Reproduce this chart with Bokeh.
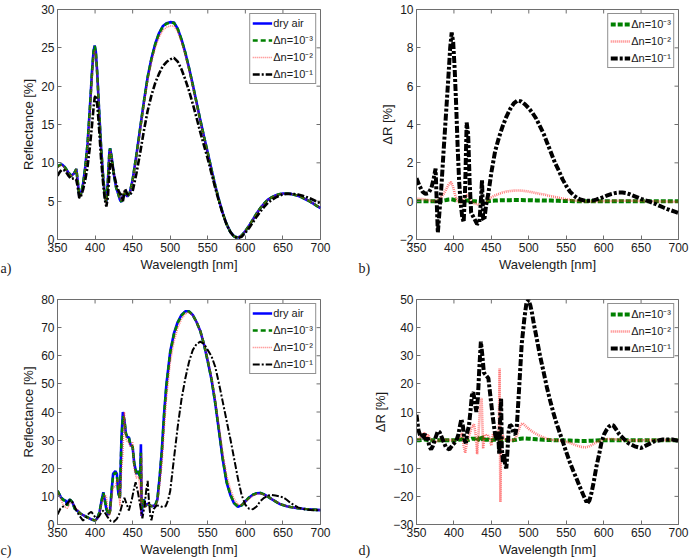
import math

from bokeh.plotting import figure
from bokeh.models import FixedTicker, Range1d, Title
from bokeh.layouts import column, row
from bokeh.embed import file_html
from bokeh.resources import INLINE

# ---------------------------------------------------------------------------
# Data: reflectance spectra (a, c) and reflectance changes (b, d)
# ---------------------------------------------------------------------------
WL_TICKS = [350, 400, 450, 500, 550, 600, 650, 700]

# Structure 1 -- shared wavelength grid for panels a) and b)
WL_A = [350, 353, 356, 360, 364, 368, 372, 375, 377, 379,
        381, 384, 387, 390, 393, 396, 398, 399.5, 401, 403,
        405, 408, 411, 413, 415, 417, 419, 420, 422, 425,
        428, 431, 433, 435, 437, 440, 443, 446, 450, 455,
        460, 465, 470, 475, 480, 485, 490, 495, 500, 505,
        510, 515, 520, 525, 530, 535, 540, 545, 550, 555,
        560, 565, 570, 575, 580, 585, 590, 595, 600, 605,
        610, 615, 620, 625, 630, 635, 640, 645, 650, 655,
        660, 665, 670, 675, 680, 685, 690, 695, 700]

R_A_DRY = [9.5, 9.7, 9.8, 9.4, 8.8, 8.3, 8.6, 9.2, 7.5, 5.6,
           5.9, 7.2, 9.5, 12.5, 17.0, 22.0, 24.6, 25.3, 24.5, 21.5,
           17.5, 12.0, 7.8, 5.8, 4.9, 7.5, 11.3, 11.9, 10.8, 8.5,
           6.8, 5.9, 5.2, 4.9, 5.8, 6.0, 5.6, 6.0, 7.8, 11.0,
           14.5, 18.0, 21.2, 23.6, 25.5, 26.9, 27.8, 28.2, 28.35, 28.3,
           27.5, 26.1, 24.4, 22.4, 20.2, 17.9, 15.6, 13.4, 11.3, 9.1,
           7.0, 5.1, 3.4, 2.0, 1.0, 0.4, 0.25, 0.5, 1.1, 1.8,
           2.6, 3.4, 4.1, 4.7, 5.2, 5.5, 5.75, 5.9, 6.0, 6.0,
           5.95, 5.85, 5.7, 5.5, 5.25, 5.0, 4.7, 4.4, 4.1]

R_A_DN3 = [9.5, 9.7, 9.8, 9.4, 8.8, 8.3, 8.6, 9.2, 7.5, 5.59,
           5.89, 7.18, 9.46, 12.44, 16.91, 21.9, 24.51, 25.23, 24.45, 21.48,
           17.5, 12.01, 7.8, 5.79, 4.88, 7.47, 11.27, 11.88, 10.8, 8.51,
           6.81, 5.92, 5.22, 4.92, 5.82, 6.02, 5.61, 6.0, 7.78, 10.97,
           14.46, 17.95, 21.15, 23.55, 25.44, 26.84, 27.74, 28.15, 28.3, 28.25,
           27.46, 26.06, 24.37, 22.37, 20.17, 17.88, 15.58, 13.39, 11.29, 9.09,
           7.0, 5.1, 3.4, 2.0, 1.0, 0.4, 0.25, 0.5, 1.1, 1.8,
           2.6, 3.4, 4.1, 4.7, 5.2, 5.5, 5.75, 5.9, 6.0, 6.0,
           5.95, 5.85, 5.7, 5.5, 5.25, 5.0, 4.7, 4.4, 4.1]

R_A_DN2 = [9.38, 9.58, 9.69, 9.3, 8.73, 8.26, 8.59, 9.2, 7.46, 5.52,
           5.78, 6.95, 9.08, 11.85, 16.12, 21.0, 23.75, 24.65, 24.1, 21.35,
           17.5, 12.1, 7.8, 5.7, 4.68, 7.18, 11.0, 11.7, 10.78, 8.6,
           6.93, 6.05, 5.38, 5.1, 5.98, 6.15, 5.65, 5.95, 7.6, 10.7,
           14.12, 17.55, 20.7, 23.07, 24.95, 26.34, 27.25, 27.67, 27.85, 27.84,
           27.08, 25.72, 24.05, 22.1, 19.94, 17.68, 15.42, 13.26, 11.2, 9.03,
           6.96, 5.08, 3.4, 2.01, 1.02, 0.42, 0.26, 0.5, 1.1, 1.79,
           2.59, 3.38, 4.08, 4.68, 5.18, 5.48, 5.73, 5.89, 5.99, 6.0,
           5.95, 5.86, 5.71, 5.52, 5.27, 5.02, 4.73, 4.43, 4.13]

R_A_DN1 = [8.3, 8.8, 9.1, 9.0, 8.4, 7.9, 8.0, 7.8, 6.8, 5.4,
           5.6, 6.5, 7.8, 9.5, 12.0, 15.0, 17.2, 18.5, 18.8, 17.5,
           15.0, 10.5, 7.0, 5.2, 4.3, 5.5, 8.5, 9.8, 10.3, 8.6,
           7.3, 6.4, 6.0, 5.8, 5.0, 6.6, 5.9, 5.8, 6.3, 8.6,
           11.3, 14.2, 16.8, 18.8, 20.4, 21.6, 22.6, 23.15, 23.5, 23.7,
           23.2, 22.2, 20.9, 19.4, 17.7, 15.9, 14.0, 12.25, 10.5, 8.6,
           6.7, 4.95, 3.33, 1.97, 0.98, 0.37, 0.17, 0.35, 0.88, 1.5,
           2.23, 2.98, 3.65, 4.25, 4.78, 5.14, 5.47, 5.7, 5.88, 5.95,
           5.95, 5.93, 5.86, 5.75, 5.58, 5.41, 5.18, 4.95, 4.72]

# Reflectance changes of structure 1 (panel b)
DR_A3 = [0, 0, 0, 0, 0, 0, 0, 0, 0, 0.01,
         0.01, 0.02, 0.04, 0.06, 0.09, 0.1, 0.09, 0.07, 0.05, 0.02,
         0.0, -0.01, 0.0, 0.01, 0.02, 0.03, 0.03, 0.02, 0.0, -0.01,
         -0.01, -0.02, -0.02, -0.02, -0.02, -0.02, -0.01, 0.0, 0.02, 0.03,
         0.04, 0.05, 0.05, 0.05, 0.06, 0.06, 0.06, 0.05, 0.05, 0.05,
         0.04, 0.04, 0.03, 0.03, 0.03, 0.02, 0.02, 0.01, 0.01, 0.01,
         0, 0, 0, 0, 0, 0, 0, 0, 0, 0,
         0, 0, 0, 0, 0, 0, 0, 0, 0, 0,
         0, 0, 0, 0, 0, 0, 0, 0, 0]

DR_A2 = [0.12, 0.12, 0.11, 0.1, 0.07, 0.04, 0.01, 0.0, 0.04, 0.08,
         0.12, 0.25, 0.42, 0.65, 0.88, 1.0, 0.85, 0.65, 0.4, 0.15,
         0.0, -0.1, 0.0, 0.1, 0.22, 0.32, 0.3, 0.2, 0.02, -0.1,
         -0.13, -0.15, -0.18, -0.2, -0.18, -0.15, -0.05, 0.05, 0.2, 0.3,
         0.38, 0.45, 0.5, 0.53, 0.55, 0.56, 0.55, 0.53, 0.5, 0.46,
         0.42, 0.38, 0.35, 0.3, 0.26, 0.22, 0.18, 0.14, 0.1, 0.07,
         0.04, 0.02, 0.0, -0.01, -0.02, -0.02, -0.01, 0.0, 0.0, 0.01,
         0.01, 0.02, 0.02, 0.02, 0.02, 0.02, 0.02, 0.01, 0.01, 0.0,
         0.0, -0.01, -0.01, -0.02, -0.02, -0.02, -0.03, -0.03, -0.03]

WL_B1 = [350, 354, 358, 362, 366, 370, 373, 375.5, 377, 378.5,
         380, 383, 386, 389, 392, 395, 397, 399, 401, 403,
         405, 407, 409, 411, 413, 415, 417, 419, 421, 423,
         427, 431, 434, 436, 437.5, 439, 440.5, 443, 446, 450,
         455, 460, 465, 470, 475, 480, 485, 490, 495, 500,
         505, 510, 515, 520, 525, 530, 535, 540, 545, 550,
         555, 560, 565, 570, 575, 580, 585, 590, 595, 600,
         605, 610, 615, 620, 625, 630, 635, 640, 645, 650,
         655, 660, 665, 670, 675, 680, 685, 690, 695, 700]

DR_B1 = [1.2, 0.8, 0.5, 0.38, 0.42, 0.7, 1.2, 1.7, 0.0, -1.65,
         -0.9, 0.6, 2.5, 4.3, 6.1, 8.0, 8.8, 8.3, 6.9, 5.0,
         2.8, 1.0, -0.1, -0.8, -1.1, 0.7, 4.1, 3.5, 1.0, -0.6,
         -0.9, -1.2, -1.1, 0.0, 1.1, -0.9, -1.0, -0.2, 0.4, 1.5,
         2.6, 3.3, 3.9, 4.4, 4.8, 5.1, 5.25, 5.2, 5.05, 4.85,
         4.6, 4.3, 3.9, 3.5, 3.0, 2.5, 2.0, 1.6, 1.15, 0.8,
         0.5, 0.3, 0.15, 0.07, 0.03, 0.02, 0.03, 0.08, 0.15, 0.22,
         0.3, 0.37, 0.42, 0.45, 0.45, 0.42, 0.36, 0.28, 0.2, 0.12,
         0.05, 0.0, -0.08, -0.16, -0.25, -0.33, -0.41, -0.48, -0.55, -0.62]

# Structure 2 -- wavelength grid for panels c) and d)
WL_C = [350, 352, 355, 358, 361, 363, 365, 367, 370, 373,
        376, 380, 385, 390, 395, 400, 403, 406, 409, 411,
        413, 415, 418, 420, 422, 424, 427, 429, 431, 433,
        435, 437, 439, 441, 443, 445, 447, 450, 452, 455,
        458, 460, 461, 462, 463, 465, 467, 470, 475, 480,
        483, 486, 489, 492, 495, 500, 505, 510, 515, 520,
        525, 530, 535, 540, 545, 550, 555, 560, 565, 570,
        575, 580, 585, 590, 595, 600, 605, 610, 615, 620,
        625, 630, 635, 640, 645, 650, 655, 660, 670, 680,
        690, 700]

R_C_DRY = [12.0, 11.0, 9.5, 8.8, 8.5, 6.8, 8.6, 8.8, 7.8, 5.6,
           5.0, 4.0, 3.2, 2.5, 1.8, 1.4, 2.2, 4.5, 9.0, 11.5,
           8.5, 5.5, 3.4, 5.0, 12.0, 18.0, 19.0, 18.0, 11.0, 9.5,
           30.0, 40.0, 37.0, 32.5, 31.0, 31.0, 28.5, 27.5, 22.0, 18.0,
           19.0, 16.5, 28.5, 3.0, 7.0, 9.0, 6.5, 7.4, 6.5, 6.8,
           9.0, 17.0, 27.0, 40.0, 50.0, 61.5, 68.0, 72.0, 74.5, 75.8,
           75.8, 74.5, 72.0, 68.8, 64.0, 58.0, 51.5, 43.0, 33.0, 23.0,
           15.0, 10.5, 7.5, 6.3, 6.8, 8.2, 9.6, 10.6, 11.1, 11.2,
           10.7, 9.9, 9.0, 8.2, 7.4, 6.9, 6.5, 6.2, 5.8, 5.5,
           5.3, 5.1]

R_C_DN3 = [12.0, 11.0, 9.5, 8.7, 8.2, 6.7, 8.6, 8.8, 7.8, 5.6,
           5.0, 4.0, 3.2, 2.5, 1.8, 1.4, 2.2, 4.4, 8.8, 11.2,
           8.7, 5.8, 3.4, 4.9, 11.7, 17.5, 18.5, 17.8, 11.4, 9.2,
           28.8, 38.5, 37.3, 32.3, 30.9, 30.8, 28.4, 27.7, 21.8, 17.9,
           18.8, 16.1, 25.5, 5.5, 7.1, 8.8, 6.45, 7.4, 6.5, 6.8,
           8.9, 16.7, 26.5, 39.4, 49.4, 61.0, 67.6, 71.7, 74.3, 75.7,
           75.75, 74.5, 72.0, 68.85, 64.05, 58.1, 51.65, 43.2, 33.25, 23.3,
           15.3, 10.75, 7.7, 6.4, 6.8, 8.2, 9.6, 10.6, 11.1, 11.2,
           10.7, 9.9, 9.0, 8.2, 7.4, 6.9, 6.5, 6.2, 5.8, 5.5,
           5.3, 5.1]

R_C_DN2 = [12.0, 10.7, 8.5, 6.8, 6.0, 5.8, 6.6, 7.8, 7.8, 6.1,
           5.5, 4.0, 3.2, 2.3, 1.8, 1.4, 1.9, 4.0, 7.5, 9.0,
           10.5, 10.0, 3.4, 3.5, 9.0, 13.0, 13.5, 16.0, 16.0, 6.5,
           18.0, 25.0, 40.0, 30.5, 29.5, 29.0, 27.5, 29.5, 20.0, 16.5,
           17.0, 12.0, 3.0, 25.0, 8.0, 7.0, 6.0, 7.4, 6.5, 6.8,
           8.0, 14.0, 21.5, 34.0, 44.8, 57.5, 65.0, 69.8, 73.0, 74.9,
           75.4, 74.4, 72.0, 68.9, 64.3, 58.6, 52.5, 44.5, 35.0, 25.4,
           17.6, 12.8, 9.1, 7.1, 7.0, 8.0, 9.2, 10.2, 10.8, 11.0,
           10.6, 9.9, 9.1, 8.3, 7.5, 7.0, 6.5, 6.2, 5.8, 5.5,
           5.3, 5.1]

WL_C1 = [350, 354, 358, 362, 367, 371, 375, 379, 384, 388,
         392, 395, 398, 401, 405, 409, 411, 414, 417, 421,
         425, 429, 433, 436, 439, 442, 445, 449, 452, 454,
         457, 460, 463, 466, 468, 470, 471.5, 473.5, 475, 478,
         482, 486, 490, 494, 497, 500, 505, 510, 515, 520,
         525, 530, 535, 540, 545, 550, 555, 560, 565, 570,
         575, 578, 580, 585, 590, 595, 600, 605, 610, 615,
         620, 625, 630, 635, 640, 645, 650, 655, 660, 670,
         680, 690, 700]

R_C_DN1 = [3.5, 5.7, 6.5, 7.2, 8.7, 7.6, 5.0, 3.2, 1.4, 2.5,
           4.0, 4.5, 3.5, 2.2, 2.8, 4.5, 5.0, 3.8, 2.5, 1.2,
           1.0, 2.0, 4.2, 7.0, 9.5, 7.3, 5.0, 9.0, 13.0, 15.0,
           11.5, 6.8, 2.2, 7.0, 12.0, 15.5, 9.2, 3.0, 1.5, 5.5,
           6.8, 6.6, 6.2, 6.5, 8.5, 11.9, 23.5, 34.8, 44.5, 51.8,
           57.8, 62.0, 64.2, 65.0, 64.2, 62.0, 59.8, 56.0, 50.0, 43.5,
           37.0, 33.0, 30.5, 23.5, 16.5, 10.5, 7.0, 5.6, 5.4, 6.4,
           8.3, 9.5, 10.3, 10.5, 10.3, 10.0, 9.7, 8.8, 7.7, 6.1,
           5.3, 5.1, 5.1]

# Reflectance changes of structure 2 (panel d)
DR_C3 = [0, 0, 0, 0.1, 0.3, 0.1, 0, 0, 0, 0,
         0, 0, 0, 0, 0, 0, 0, 0.1, 0.2, 0.3,
         -0.2, -0.3, 0, 0.1, 0.3, 0.5, 0.5, 0.2, -0.4, 0.3,
         1.2, 1.5, -0.3, 0.2, 0.1, 0.2, 0.1, -0.2, 0.2, 0.1,
         0.2, 0.4, 3.0, -2.5, -0.1, 0.2, 0.05, 0, 0, 0,
         0.1, 0.3, 0.5, 0.6, 0.6, 0.5, 0.4, 0.3, 0.2, 0.1,
         0.05, 0, 0, -0.05, -0.05, -0.1, -0.15, -0.2, -0.25, -0.3,
         -0.3, -0.25, -0.2, -0.1, 0, 0, 0, 0, 0, 0,
         0, 0, 0, 0, 0, 0, 0, 0, 0, 0,
         0, 0]

DR_C2 = [0.0, 0.3, 1.0, 2.0, 2.5, 1.0, 2.0, 1.0, 0.0, -0.5,
         -0.5, 0.0, 0.0, 0.2, 0.0, 0.0, 0.3, 0.5, 1.5, 2.5,
         -2.0, -4.5, 0.0, 1.5, 3.0, 5.0, 5.5, 2.0, -5.0, 3.0,
         12.0, 15.0, -3.0, 2.0, 1.5, 2.0, 1.0, -2.0, 2.0, 1.5,
         2.0, 4.5, 25.5, -22.0, -1.0, 2.0, 0.5, 0.0, 0.0, 0.0,
         1.0, 3.0, 5.5, 6.0, 5.2, 4.0, 3.0, 2.2, 1.5, 0.9,
         0.4, 0.1, 0.0, -0.1, -0.3, -0.6, -1.0, -1.5, -2.0, -2.4,
         -2.6, -2.3, -1.6, -0.8, -0.2, 0.2, 0.4, 0.4, 0.3, 0.2,
         0.1, 0.0, -0.1, -0.1, -0.1, -0.1, 0.0, 0.0, 0.0, 0.0,
         0.0, 0.0]

WL_D1 = [350, 352.5, 355, 357, 359, 361, 363, 365, 367, 369.5,
         372, 375, 378.5, 381, 385, 389.5, 394, 398.5, 403, 406,
         408, 410, 412, 414, 416, 418, 420, 422, 424, 426,
         428, 430, 432, 434, 436, 438, 440, 443, 446, 449,
         452, 455, 457, 459, 460.5, 462, 463, 464, 465.5, 467,
         468.5, 470, 471.5, 473, 475, 477, 479.5, 482, 484, 487,
         490.5, 494, 497, 499.5, 502, 504, 507, 510.5, 515, 519.5,
         524, 528.5, 533, 537, 541.5, 546, 550, 555, 559.5, 564,
         568, 573, 578, 581, 584, 587, 590.5, 594, 597, 600.5,
         604, 607, 610.5, 613, 617, 621, 626, 632.5, 641.5, 650,
         659, 668, 679, 692, 700]

DR_D1 = [9.0, 3.7, 1.5, 2.0, 0.5, 2.3, -0.5, 1.0, -2.2, -3.3,
         -2.0, 0.5, 3.2, 2.8, 0.2, -2.7, -3.3, -1.6, -0.4, 2.0,
         5.0, 7.5, 5.0, 0.0, -1.0, 3.0, 5.0, 10.0, 16.0, 17.0,
         13.0, 10.0, 15.0, 26.0, 35.0, 30.0, 24.0, 23.0, 22.0, 15.0,
         8.0, 2.0, 0.0, 3.0, -5.0, 10.0, 15.0, -3.0, -8.0, -5.0,
         -9.0, -10.0, -4.0, 3.0, 5.4, 5.0, 2.5, 2.0, 4.8, 18.0,
         34.0, 43.0, 49.0, 49.8, 48.0, 45.6, 41.0, 36.3, 30.0, 24.6,
         19.0, 14.1, 9.6, 6.0, 2.5, -1.0, -4.2, -8.0, -11.0, -13.8,
         -16.5, -19.6, -22.5, -21.5, -18.5, -14.5, -9.2, -5.0, -1.0, 2.0,
         3.7, 4.8, 5.4, 5.2, 3.7, 2.0, 0.7, -1.0, -2.2, -2.8,
         -1.6, -0.4, 0.2, 0.2, -0.3]

for xs, ys in [(WL_A, R_A_DRY), (WL_A, R_A_DN3), (WL_A, R_A_DN2), (WL_A, R_A_DN1),
               (WL_A, DR_A3), (WL_A, DR_A2), (WL_B1, DR_B1),
               (WL_C, R_C_DRY), (WL_C, R_C_DN3), (WL_C, R_C_DN2), (WL_C1, R_C_DN1),
               (WL_C, DR_C3), (WL_C, DR_C2), (WL_D1, DR_D1)]:
    assert len(xs) == len(ys), (len(xs), len(ys))

LABELS = ["dry air", "\u0394n=10\u207b\u00b3", "\u0394n=10\u207b\u00b2", "\u0394n=10\u207b\u00b9"]

# ---------------------------------------------------------------------------
# Styling
# ---------------------------------------------------------------------------
FONT = "Liberation Sans"
TAG_FONT = "Liberation Serif"
FRAME = "#6e6e6e"
TEXT = "#1a1a1a"
BLUE, GREEN, RED, BLACK = "#0000ff", "#008000", "#ff2020", "#000000"
X_MIN, X_MAX = 350, 700


def style_axis(ax, ticks):
    ax.ticker = FixedTicker(ticks=ticks)
    ax.axis_line_color = FRAME
    ax.major_tick_line_color = FRAME
    ax.major_tick_in = 4
    ax.major_tick_out = 0
    ax.minor_tick_line_color = None
    ax.major_label_text_font = FONT
    ax.major_label_text_color = TEXT
    ax.major_label_text_font_size = "12px"
    ax.major_label_standoff = 3


def panel(width, height, borders, y_rng, y_ticks, y_label, tag, tag_offset, tag_lift):
    left, right, top, bottom = borders
    p = figure(width=width, height=height,
               x_range=Range1d(X_MIN, X_MAX), y_range=Range1d(*y_rng),
               output_backend="svg", toolbar_location=None,
               min_border_left=left, min_border_right=right,
               min_border_top=top, min_border_bottom=bottom)
    p.background_fill_color = "white"
    p.border_fill_color = "white"
    p.outline_line_color = FRAME
    p.grid.visible = False

    style_axis(p.xaxis[0], WL_TICKS)
    style_axis(p.yaxis[0], y_ticks)
    for ax, lbl in ((p.xaxis[0], "Wavelength [nm]"), (p.yaxis[0], y_label)):
        ax.axis_label = lbl
        ax.axis_label_text_font = FONT
        ax.axis_label_text_font_size = "13px"
        ax.axis_label_text_font_style = "normal"
        ax.axis_label_text_color = TEXT
        ax.axis_label_standoff = 2

    # inward tick marks along the top and right edges of the box
    # (half of each dash is clipped away by the frame)
    p.scatter(WL_TICKS, [y_rng[1]] * len(WL_TICKS), marker="dash", size=8,
              angle=math.pi / 2, line_color=FRAME, line_width=1)
    p.scatter([X_MAX] * len(y_ticks), y_ticks, marker="dash", size=8,
              line_color=FRAME, line_width=1)

    # panel tag at the lower left, level with the axis label
    p.add_layout(Title(text=tag, align="left", offset=tag_offset,
                       vertical_align="top", standoff=-tag_lift,
                       text_font=TAG_FONT, text_font_size="14px",
                       text_font_style="normal", text_color=TEXT), "below")
    return p


def style_legend(p):
    lg = p.legend[0]
    lg.location = "top_right"
    lg.border_line_color = "#222222"
    lg.border_line_width = 1
    lg.background_fill_color = "white"
    lg.background_fill_alpha = 1.0
    lg.label_text_font = FONT
    lg.label_text_font_size = "11px"
    lg.label_text_color = TEXT
    lg.glyph_width = 20
    lg.glyph_height = 14
    lg.label_height = 14
    lg.label_standoff = 1
    lg.spacing = 2
    lg.padding = 2
    lg.margin = 4


# ---------------------------------------------------------------------------
# a) reflectance, structure 1
# ---------------------------------------------------------------------------
pa = panel(345, 280, (57, 25, 8, 40), (0, 30), [0, 5, 10, 15, 20, 25, 30],
           "Reflectance [%]", "a)", -57, 28)
pa.line(WL_A, R_A_DRY, color=BLUE, line_width=2.6, legend_label=LABELS[0])
pa.line(WL_A, R_A_DN3, color=GREEN, line_width=2.6, line_dash="5 3", legend_label=LABELS[1])
pa.line(WL_A, R_A_DN2, color=RED, line_width=1.6, line_alpha=0.6, line_dash="1 1", legend_label=LABELS[2])
pa.line(WL_A, R_A_DN1, color=BLACK, line_width=2.6, line_dash="7 2 2 2", legend_label=LABELS[3])
style_legend(pa)

# ---------------------------------------------------------------------------
# b) reflectance change, structure 1
# ---------------------------------------------------------------------------
pb = panel(346, 280, (71, 13, 9, 41), (-2, 10), [-2, 0, 2, 4, 6, 8, 10],
           "\u0394R [%]", "b)", -58, 28)
pb.line(WL_A, DR_A3, color=GREEN, line_width=4, line_dash="5 2", legend_label=LABELS[1])
pb.line(WL_A, DR_A2, color=RED, line_width=2.6, line_alpha=0.6, line_dash="1 1", legend_label=LABELS[2])
pb.line(WL_B1, DR_B1, color=BLACK, line_width=4, line_dash="7 2 3 2", legend_label=LABELS[3])
style_legend(pb)

# ---------------------------------------------------------------------------
# c) reflectance, structure 2
# ---------------------------------------------------------------------------
pc = panel(345, 279, (57, 25, 18, 31), (0, 80), [0, 10, 20, 30, 40, 50, 60, 70, 80],
           "Reflectance [%]", "c)", -57, 34)
pc.line(WL_C, R_C_DRY, color=BLUE, line_width=2.6, legend_label=LABELS[0])
pc.line(WL_C, R_C_DN3, color=GREEN, line_width=2.6, line_dash="5 3", legend_label=LABELS[1])
pc.line(WL_C, R_C_DN2, color=RED, line_width=1.6, line_alpha=0.6, line_dash="1 1", legend_label=LABELS[2])
pc.line(WL_C1, R_C_DN1, color=BLACK, line_width=2.0, line_dash="7 2 2 2", legend_label=LABELS[3])
style_legend(pc)

# ---------------------------------------------------------------------------
# d) reflectance change, structure 2
# ---------------------------------------------------------------------------
pd_ = panel(346, 279, (71, 13, 19, 31), (-30, 50), [-30, -20, -10, 0, 10, 20, 30, 40, 50],
            "\u0394R [%]", "d)", -58, 34)
pd_.line(WL_C, DR_C3, color=GREEN, line_width=4, line_dash="5 2", legend_label=LABELS[1])
pd_.line(WL_C, DR_C2, color=RED, line_width=2.6, line_alpha=0.6, line_dash="1 1", legend_label=LABELS[2])
pd_.line(WL_D1, DR_D1, color=BLACK, line_width=4, line_dash="7 2 3 2", legend_label=LABELS[3])
style_legend(pd_)

layout = column(row(pa, pb), row(pc, pd_))

with open("out.html", "w") as f:
    f.write(file_html(layout, INLINE))
